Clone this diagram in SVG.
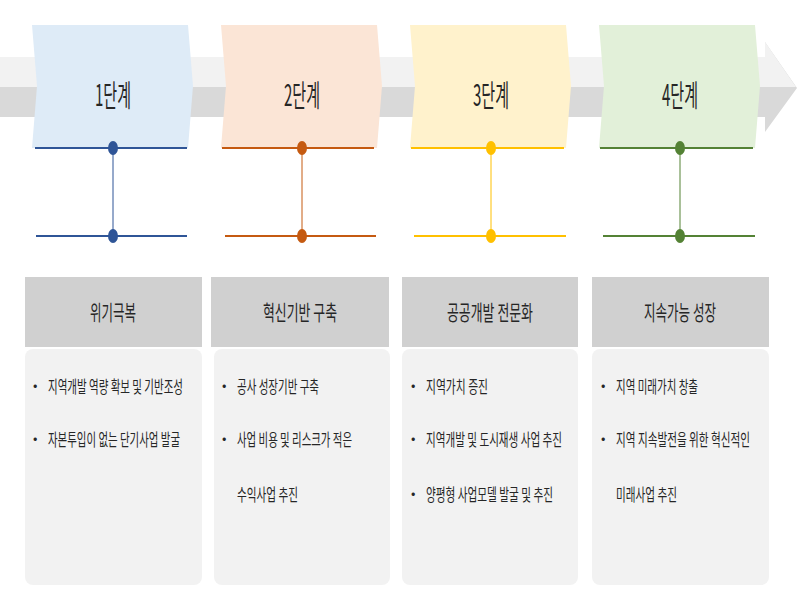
<svg xmlns="http://www.w3.org/2000/svg" width="800" height="600" viewBox="0 0 800 600">
<style>
text{font-family:"Noto Sans CJK KR","Noto Sans",sans-serif;fill:#262626}
.t{font-size:30px;text-anchor:middle}
.h{font-size:21px;text-anchor:middle}
.b{font-size:16.5px}
.d{font-size:13px}
.hd{fill:#d0d0d0}
.bd{fill:#f2f2f2}
</style>
<rect width="800" height="600" fill="#fff"/>
<g id="band">
<polygon points="0,57 765,57 765,42 797,88 765,132 765,117 0,117" fill="#d9d9d9"/>
<polygon points="0,57 765,57 765,42 796,87 0,87" fill="#f2f2f2"/>
</g>
<g id="stage1">
<polygon points="32,25 188,25 193,86 188,148 32,148 37,86" fill="#deebf7"/>
<text class="t" x="113" y="106" textLength="36" lengthAdjust="spacingAndGlyphs">1단계</text>
</g>
<g id="stage2">
<polygon points="221,25 377,25 382,86 377,148 221,148 226,86" fill="#fbe5d6"/>
<text class="t" x="302" y="106" textLength="36" lengthAdjust="spacingAndGlyphs">2단계</text>
</g>
<g id="stage3">
<polygon points="410,25 566,25 571,86 566,148 410,148 415,86" fill="#fff2cc"/>
<text class="t" x="491" y="106" textLength="36" lengthAdjust="spacingAndGlyphs">3단계</text>
</g>
<g id="stage4">
<polygon points="599,25 755,25 760,86 755,148 599,148 604,86" fill="#e2f0d9"/>
<text class="t" x="680" y="106" textLength="36" lengthAdjust="spacingAndGlyphs">4단계</text>
</g>
<g id="connectors" stroke-width="2">
<g stroke="#2f5597" fill="#2f5597"><line x1="35" y1="148" x2="187" y2="148"/><line x1="113" y1="148" x2="113" y2="236" stroke-width="1"/><line x1="36" y1="236" x2="187" y2="236"/><ellipse cx="113" cy="148" rx="4" ry="6"/><ellipse cx="113" cy="236" rx="4" ry="6"/></g>
<g stroke="#c55a11" fill="#c55a11"><line x1="222" y1="148" x2="374" y2="148"/><line x1="302" y1="148" x2="302" y2="236" stroke-width="1"/><line x1="225" y1="236" x2="376" y2="236"/><ellipse cx="302" cy="148" rx="4" ry="6"/><ellipse cx="302" cy="236" rx="4" ry="6"/></g>
<g stroke="#ffc000" fill="#ffc000"><line x1="411" y1="148" x2="564" y2="148"/><line x1="491" y1="148" x2="491" y2="236" stroke-width="1"/><line x1="414" y1="236" x2="566" y2="236"/><ellipse cx="491" cy="148" rx="4" ry="6"/><ellipse cx="491" cy="236" rx="4" ry="6"/></g>
<g stroke="#548235" fill="#548235"><line x1="600" y1="148" x2="753" y2="148"/><line x1="680" y1="148" x2="680" y2="236" stroke-width="1"/><line x1="603" y1="236" x2="755" y2="236"/><ellipse cx="680" cy="148" rx="4" ry="6"/><ellipse cx="680" cy="236" rx="4" ry="6"/></g>
</g>
<g id="col1">
<rect class="hd" x="25" y="277" width="177" height="70"/>
<rect class="bd" x="25" y="349" width="177" height="236" rx="8"/>
<text class="h" x="113" y="320" textLength="46" lengthAdjust="spacingAndGlyphs">위기극복</text>
<text class="d" x="33" y="390">•</text><text class="b" x="48" y="393" textLength="135" lengthAdjust="spacingAndGlyphs">지역개발 역량 확보 및 기반조성</text>
<text class="d" x="33" y="443">•</text><text class="b" x="48" y="446" textLength="132" lengthAdjust="spacingAndGlyphs">자본투입이 없는 단기사업 발굴</text>
</g>
<g id="col2">
<rect class="hd" x="211" y="277" width="178" height="70"/>
<rect class="bd" x="214" y="349" width="176" height="236" rx="8"/>
<text class="h" x="300" y="320" textLength="74" lengthAdjust="spacingAndGlyphs">혁신기반 구축</text>
<text class="d" x="222" y="390">•</text><text class="b" x="237" y="393" textLength="82" lengthAdjust="spacingAndGlyphs">공사 성장기반 구축</text>
<text class="d" x="222" y="443">•</text><text class="b" x="237" y="446" textLength="115" lengthAdjust="spacingAndGlyphs">사업 비용 및 리스크가 적은</text>
<text class="b" x="237" y="501" textLength="61" lengthAdjust="spacingAndGlyphs">수익사업 추진</text>
</g>
<g id="col3">
<rect class="hd" x="402" y="277" width="176" height="70"/>
<rect class="bd" x="402" y="349" width="176" height="236" rx="8"/>
<text class="h" x="490" y="320" textLength="86" lengthAdjust="spacingAndGlyphs">공공개발 전문화</text>
<text class="d" x="411" y="390">•</text><text class="b" x="426" y="393" textLength="62" lengthAdjust="spacingAndGlyphs">지역가치 증진</text>
<text class="d" x="411" y="443">•</text><text class="b" x="426" y="446" textLength="136" lengthAdjust="spacingAndGlyphs">지역개발 및 도시재생 사업 추진</text>
<text class="d" x="411" y="498">•</text><text class="b" x="426" y="501" textLength="127" lengthAdjust="spacingAndGlyphs">양평형 사업모델 발굴 및 추진</text>
</g>
<g id="col4">
<rect class="hd" x="592" y="277" width="177" height="70"/>
<rect class="bd" x="592" y="349" width="177" height="236" rx="8"/>
<text class="h" x="680" y="320" textLength="72" lengthAdjust="spacingAndGlyphs">지속가능 성장</text>
<text class="d" x="601" y="390">•</text><text class="b" x="616" y="393" textLength="82" lengthAdjust="spacingAndGlyphs">지역 미래가치 창출</text>
<text class="d" x="601" y="443">•</text><text class="b" x="616" y="446" textLength="134" lengthAdjust="spacingAndGlyphs">지역 지속발전을 위한 혁신적인</text>
<text class="b" x="616" y="501" textLength="61" lengthAdjust="spacingAndGlyphs">미래사업 추진</text>
</g>
</svg>
